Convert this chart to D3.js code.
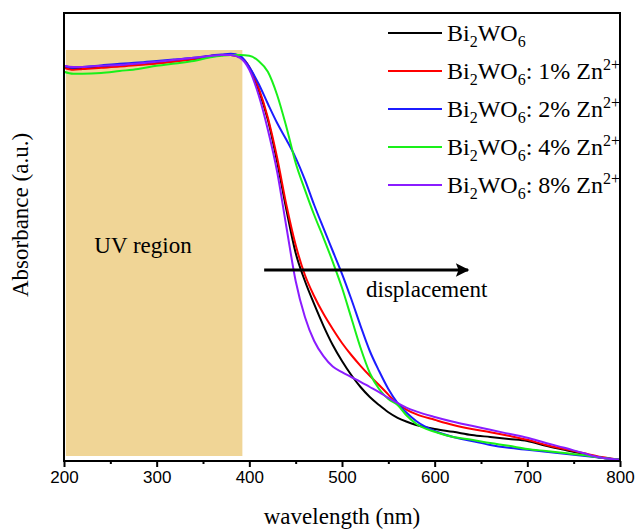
<!DOCTYPE html>
<html>
<head>
<meta charset="utf-8">
<script src="https://cdn.jsdelivr.net/npm/d3@7"></script>
<style>
  body { margin: 0; background: #fff; }
</style>
</head>
<body>
<div id="chart"></div>
<script>
// wavelength grid (nm) and absorbance (a.u.)
const wavelengths = [200,210,220,240,260,280,300,320,340,360,370,380,390,
  400,410,420,430,440,450,460,470,480,490,500,510,520,530,540,550,560,570,580,
  600,620,640,660,680,700,720,740,760,780,800];

const bi2wo6 = [0.985,0.980,0.983,0.985,0.989,0.991,0.995,1.000,1.005,1.013,1.015,1.015,1.010,
  0.983,0.928,0.853,0.748,0.628,0.520,0.450,0.392,0.338,0.290,0.250,0.215,0.185,0.160,0.140,0.122,0.108,0.098,0.090,
  0.080,0.073,0.065,0.060,0.055,0.050,0.038,0.028,0.018,0.008,0.003];

const zn1 = [0.983,0.978,0.980,0.983,0.986,0.990,0.994,0.999,1.005,1.013,1.015,1.015,1.010,
  0.985,0.933,0.858,0.758,0.640,0.540,0.465,0.412,0.368,0.330,0.295,0.265,0.238,0.213,0.190,0.166,0.143,0.128,0.117,
  0.103,0.090,0.080,0.072,0.063,0.053,0.040,0.030,0.020,0.010,0.003];

const zn2 = [0.988,0.983,0.985,0.989,0.993,0.996,1.000,1.004,1.008,1.014,1.016,1.018,1.013,
  0.985,0.943,0.893,0.845,0.803,0.758,0.703,0.640,0.582,0.525,0.468,0.405,0.338,0.275,0.225,0.180,0.145,0.120,0.100,
  0.075,0.060,0.050,0.040,0.033,0.028,0.023,0.018,0.013,0.008,0.003];

const zn4 = [0.973,0.968,0.968,0.970,0.975,0.980,0.988,0.994,1.000,1.010,1.013,1.015,1.015,
  1.013,1.000,0.973,0.915,0.835,0.745,0.678,0.615,0.558,0.498,0.433,0.358,0.283,0.220,0.180,0.155,0.140,0.113,0.093,
  0.073,0.060,0.053,0.045,0.038,0.030,0.025,0.020,0.015,0.008,0.003];

const zn8 = [0.988,0.985,0.985,0.988,0.990,0.994,0.998,1.003,1.008,1.013,1.015,1.015,1.008,
  0.978,0.915,0.828,0.723,0.585,0.450,0.360,0.300,0.262,0.236,0.222,0.210,0.198,0.185,0.172,0.158,0.145,0.133,0.124,
  0.110,0.098,0.088,0.078,0.068,0.058,0.045,0.033,0.020,0.008,0.003];

const seriesValues = [bi2wo6, zn1, zn2, zn4, zn8];
const seriesColors = ["#000000", "#ff0000", "#1c1cff", "#19f019", "#8a1cff"];
const dopingLabels = ["", "1%", "2%", "4%", "8%"];

const xTicks = [200, 300, 400, 500, 600, 700, 800];
const xMinorTicks = [250, 350, 450, 550, 650, 750];
const uvRegion = [202, 392.5];     // nm
const uvBand = [0.0125, 1.0275];   // a.u.
const shiftArrow = [416, 636];     // nm
const shiftLevel = 0.4775;         // a.u.

var width = 636,
    height = 529,
    margin = {top: 13, right: 16, bottom: 68, left: 64};

var serif = "'Liberation Serif', 'Times New Roman', serif";

var svg = d3.select("#chart")
  .append("svg")
  .attr("width", width)
  .attr("height", height);

var x = d3.scaleLinear().domain([200, 800]).range([margin.left, width - margin.right]);
var y = d3.scaleLinear().domain([0, 1.12]).range([height - margin.bottom, margin.top]);

// UV region background
svg.append("rect")
  .attr("x", x(uvRegion[0]))
  .attr("y", y(uvBand[1]))
  .attr("width", x(uvRegion[1]) - x(uvRegion[0]))
  .attr("height", y(uvBand[0]) - y(uvBand[1]))
  .style("fill", "#f0d596");

svg.append("text")
  .attr("x", 143).attr("y", 253)
  .attr("text-anchor", "middle")
  .style("font-family", serif)
  .style("font-size", "23px")
  .text("UV region");

// curves
var line = d3.line()
  .x((d, i) => x(wavelengths[i]))
  .y(d => y(d))
  .curve(d3.curveMonotoneX);

svg.selectAll(".curve")
  .data(seriesValues)
  .enter().append("path")
  .attr("class", "curve")
  .attr("d", d => line(d))
  .style("fill", "none")
  .style("stroke", (d, i) => seriesColors[i])
  .style("stroke-width", 2);

// displacement arrow
svg.append("defs").append("marker")
  .attr("id", "head")
  .attr("viewBox", "0 0 10 10")
  .attr("refX", 9).attr("refY", 5)
  .attr("markerWidth", 7).attr("markerHeight", 4.5)
  .attr("markerUnits", "strokeWidth")
  .attr("orient", "auto")
  .append("path")
  .attr("d", "M0,0 L10,5 L0,10 L2,5 Z")
  .style("fill", "#000");

svg.append("line")
  .attr("x1", x(shiftArrow[0])).attr("y1", y(shiftLevel))
  .attr("x2", x(shiftArrow[1])).attr("y2", y(shiftLevel))
  .style("stroke", "#000")
  .style("stroke-width", 3)
  .attr("marker-end", "url(#head)");

svg.append("text")
  .attr("x", 366).attr("y", 297)
  .style("font-family", serif)
  .style("font-size", "23px")
  .text("displacement");

// axes
var plotBottom = height - margin.bottom;
var xAxis = d3.axisBottom(x).tickValues(xTicks).tickSize(6).tickSizeOuter(0).tickPadding(4);
var gx = svg.append("g")
  .attr("transform", `translate(0,${plotBottom})`)
  .call(xAxis);
gx.select(".domain").remove();
gx.selectAll("line").style("stroke", "#000").style("stroke-width", 2);
gx.selectAll("text")
  .style("font-family", "'Liberation Sans', Arial, sans-serif")
  .style("font-size", "17px")
  .style("fill", "#000");

svg.append("g")
  .attr("transform", `translate(0,${plotBottom})`)
  .call(d3.axisBottom(x).tickValues(xMinorTicks).tickSize(3).tickSizeOuter(0).tickFormat(""))
  .call(g => g.select(".domain").remove())
  .selectAll("line").style("stroke", "#000").style("stroke-width", 2);

// frame
svg.append("rect")
  .attr("x", margin.left)
  .attr("y", margin.top)
  .attr("width", width - margin.left - margin.right)
  .attr("height", plotBottom - margin.top)
  .style("fill", "none")
  .style("stroke", "#000")
  .style("stroke-width", 2);

// axis titles
svg.append("text")
  .attr("x", (margin.left + width - margin.right) / 2)
  .attr("y", 524)
  .attr("text-anchor", "middle")
  .style("font-family", serif)
  .style("font-size", "23px")
  .text("wavelength (nm)");

svg.append("text")
  .attr("transform", "translate(28,215) rotate(-90)")
  .attr("text-anchor", "middle")
  .style("font-family", serif)
  .style("font-size", "23px")
  .text("Absorbance (a.u.)");

// legend
var legend = svg.selectAll(".legend")
  .data(seriesColors)
  .enter().append("g")
  .attr("class", "legend")
  .attr("transform", (d, i) => `translate(388,${33 + i * 38})`);

legend.append("line")
  .attr("x1", 0).attr("x2", 54)
  .style("stroke", d => d)
  .style("stroke-width", 2);

var ltext = legend.append("text")
  .attr("x", 59).attr("y", 8)
  .style("font-family", serif)
  .style("font-size", "24px");

ltext.each(function(d, i) {
  var t = d3.select(this);
  t.append("tspan").text("Bi");
  t.append("tspan").attr("dy", 6).style("font-size", "16px").text("2");
  t.append("tspan").attr("dy", -6).text("WO");
  t.append("tspan").attr("dy", 6).style("font-size", "16px").text("6");
  if (dopingLabels[i]) {
    t.append("tspan").attr("dy", -6).text(": " + dopingLabels[i] + " Zn");
    t.append("tspan").attr("dy", -9).style("font-size", "16px").text("2+");
  }
});
</script>
</body>
</html>
